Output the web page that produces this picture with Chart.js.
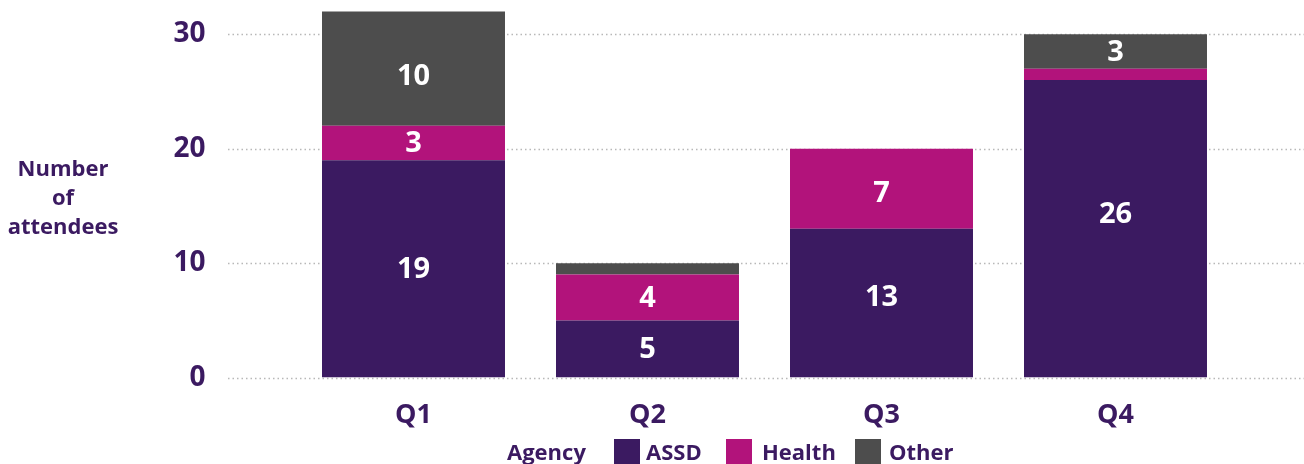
<!DOCTYPE html>
<html>
<head>
<meta charset="utf-8">
<script src="https://cdn.jsdelivr.net/npm/chart.js@4/dist/chart.umd.min.js"></script>
<style>
  body { margin: 0; background: #fff; }
  #wrap { position: relative; width: 1304px; height: 464px; font-family: "Open Sans", sans-serif; color: #3b1a61; }
  #yTitle { position: absolute; left: 0; top: 153px; width: 126px; text-align: center; font-weight: 700; font-size: 22px; line-height: 29px; }
  .lg { position: absolute; top: 436px; font-weight: 700; font-size: 22px; line-height: 30px; white-space: nowrap; }
  .box { position: absolute; top: 439px; width: 26px; height: 26px; }
</style>
</head>
<body>
<div id="wrap">
  <canvas id="chartContainer" width="1304" height="464"></canvas>
  <div id="yTitle">Number<br>of<br>attendees</div>
  <div id="legend"></div>
</div>
<script>
// quarters and attendee counts per agency
const quarters = ['Q1', 'Q2', 'Q3', 'Q4'];
const assd = [19, 5, 13, 26];
const health = [3, 4, 7, 1];
const other = [10, 1, 0, 3];
const yTicks = [0, 10, 20, 30];

const purple = '#3b1a61';
const series = [
    { label: 'ASSD', data: assd, color: '#3b1a61' },
    { label: 'Health', data: health, color: '#b2137b' },
    { label: 'Other', data: other, color: '#4d4d4d' }
];

// a few labels in the original sit off-centre (dataset:index -> px)
const labelNudge = { '0:2': -6, '0:3': -15, '1:2': 4, '2:0': 7 };

// legend (html)
const legend = document.getElementById('legend');
const legendPos = [[614, 646], [726, 762], [855, 889]];
legend.innerHTML = '<div class="lg" style="left:507px">Agency</div>' +
    series.map((s, i) =>
        `<div class="box" style="left:${legendPos[i][0]}px;background:${s.color}"></div>` +
        `<div class="lg" style="left:${legendPos[i][1]}px">${s.label}</div>`
    ).join('');

// dotted gridlines running past the plot area
const dottedGrid = {
    id: 'dottedGrid',
    beforeDatasetsDraw(chart) {
        const ctx = chart.ctx;
        const y = chart.scales.y;
        ctx.save();
        ctx.strokeStyle = '#b8b8b8';
        ctx.lineWidth = 1.5;
        ctx.setLineDash([1.5, 3]);
        yTicks.forEach(v => {
            const py = Math.round(y.getPixelForValue(v)) + 0.5;
            ctx.beginPath();
            ctx.moveTo(228, py);
            ctx.lineTo(chart.width, py);
            ctx.stroke();
        });
        ctx.restore();
    }
};

// white value labels in the middle of each segment
const segmentLabels = {
    id: 'segmentLabels',
    afterDatasetsDraw(chart) {
        const ctx = chart.ctx;
        ctx.save();
        ctx.fillStyle = '#fff';
        ctx.font = 'bold 29px "Open Sans"';
        ctx.textAlign = 'center';
        ctx.textBaseline = 'middle';
        chart.data.datasets.forEach((ds, i) => {
            chart.getDatasetMeta(i).data.forEach((bar, j) => {
                const v = ds.data[j];
                if (v < 2) return;
                const nudge = labelNudge[i + ':' + j] || 0;
                ctx.fillText(v, bar.x, (bar.y + bar.base) / 2 + 1 + nudge);
            });
        });
        ctx.restore();
    }
};

const ctx = document.getElementById('chartContainer').getContext('2d');
new Chart(ctx, {
    type: 'bar',
    data: {
        labels: quarters,
        datasets: series.map(s => ({
            label: s.label,
            data: s.data,
            backgroundColor: s.color,
            borderWidth: 0,
            categoryPercentage: 1,
            barPercentage: 0.782
        }))
    },
    options: {
        responsive: false,
        animation: false,
        layout: { padding: { left: 0, right: 71.5, top: 0, bottom: 0 } },
        plugins: { legend: { display: false }, tooltip: { enabled: false } },
        scales: {
            x: {
                stacked: true,
                grid: { display: false },
                border: { display: false },
                ticks: { color: purple, font: { family: 'Open Sans', size: 27, weight: 'bold' }, padding: 14 },
                afterFit: s => { s.height = 86.4; s.paddingLeft = 0; s.paddingRight = 0; }
            },
            y: {
                stacked: true,
                min: 0,
                max: 33,
                grid: { display: false },
                border: { display: false },
                ticks: { stepSize: 10, color: purple, font: { family: 'Open Sans', size: 28, weight: 'bold' }, padding: 83 },
                afterBuildTicks: s => { s.ticks = s.ticks.filter(t => yTicks.includes(t.value)); },
                afterFit: s => { s.width = 296.5; s.paddingTop = 0; s.paddingBottom = 0; }
            }
        }
    },
    plugins: [dottedGrid, segmentLabels]
});
</script>
</body>
</html>
